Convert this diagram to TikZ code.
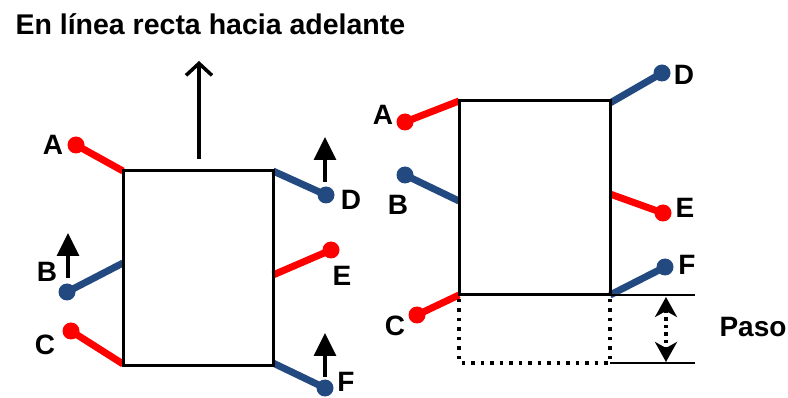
\documentclass[tikz,border=0pt]{standalone}
\usepackage{fontspec}
\setmainfont{Liberation Sans}
\usetikzlibrary{positioning,calc,arrows.meta}
\definecolor{legred}{RGB}{255,0,0}
\definecolor{legblue}{RGB}{34,74,128}

\tikzset{
  body/.style={line width=3pt},
  leg/.style={line width=7pt},
  foot/.style={circle,inner sep=0pt,minimum size=17pt},
  lbl/.style={font=\bfseries\fontsize{28}{28}\selectfont},
  lift/.style={line width=3.5pt,-{Triangle[width=22pt,length=23pt]}},
  ghost/.style={line width=3.5pt,dash pattern=on 3.5pt off 6pt},
  pasoarrow/.style={line width=3.5pt,dash pattern=on 3.5pt off 4pt,
    {Stealth[width=22pt,length=20pt,inset=6pt]}-{Stealth[width=22pt,length=20pt,inset=6pt]}},
}

\begin{document}
\begin{tikzpicture}[x=1pt,y=-1pt]
\useasboundingbox (0,0) rectangle (788,398);
\node[anchor=base west,font=\bfseries\fontsize{28.5}{28.5}\selectfont] (title) at (12,35) {En línea recta hacia adelante};

% left robot
\coordinate (a1) at (123,171);
\coordinate (b1) at (123,263);
\coordinate (c1) at (123,364);
\coordinate (d1) at (273,171);
\coordinate (e1) at (273,275);
\coordinate (f1) at (273,363);
\node[foot,fill=legred] (fa1) at (76,145) {};
\node[foot,fill=legblue] (fb1) at (67,292) {};
\node[foot,fill=legred] (fc1) at (71,331) {};
\node[foot,fill=legblue] (fd1) at (326,195) {};
\node[foot,fill=legred] (fe1) at (331,250) {};
\node[foot,fill=legblue] (ff1) at (325,388) {};
\draw[leg,legred] (a1) -- (fa1.center);
\draw[leg,legblue] (b1) -- (fb1.center);
\draw[leg,legred] (c1) -- (fc1.center);
\draw[leg,legblue] (d1) -- (fd1.center);
\draw[leg,legred] (e1) -- (fe1.center);
\draw[leg,legblue] (f1) -- (ff1.center);
\draw[body] (123,171) rectangle (273,366);
\node[lbl] (la1) at (53,145) {A};
\node[lbl] (lb1) at (47,272) {B};
\node[lbl] (lc1) at (45,345) {C};
\node[lbl] (ld1) at (351,200) {D};
\node[lbl] (le1) at (342,276) {E};
\node[lbl] (lf1) at (346,382) {F};
\coordinate (go0) at (199,159);
\coordinate (go1) at (199,61);
\draw[line width=3.5pt,-{Straight Barb[width=26pt,length=12pt]}] (go0) -- (go1);
\coordinate (ub0) at (68,278);
\coordinate (ub1) at (68,233);
\draw[lift] (ub0) -- (ub1);
\coordinate (ud0) at (325,182);
\coordinate (ud1) at (325,137);
\draw[lift] (ud0) -- (ud1);
\coordinate (uf0) at (325,377);
\coordinate (uf1) at (325,333);
\draw[lift] (uf0) -- (uf1);

% right robot
\coordinate (a2) at (459,101);
\coordinate (b2) at (459,201);
\coordinate (c2) at (459,295);
\coordinate (d2) at (610,103);
\coordinate (e2) at (610,194);
\coordinate (f2) at (610,295);
\node[foot,fill=legred] (fa2) at (405,122) {};
\node[foot,fill=legblue] (fb2) at (405,175) {};
\node[foot,fill=legred] (fc2) at (417,315) {};
\node[foot,fill=legblue] (fd2) at (662,73) {};
\node[foot,fill=legred] (fe2) at (663,213) {};
\node[foot,fill=legblue] (ff2) at (665,267) {};
\draw[leg,legred] (a2) -- (fa2.center);
\draw[leg,legblue] (b2) -- (fb2.center);
\draw[leg,legred] (c2) -- (fc2.center);
\draw[leg,legblue] (d2) -- (fd2.center);
\draw[leg,legred] (e2) -- (fe2.center);
\draw[leg,legblue] (f2) -- (ff2.center);
\draw[ghost] (459,299) -- (459,363) -- (610,363) -- (610,299);
\draw[body] (459,101) rectangle (610,295);
\node[lbl] (la2) at (383,115) {A};
\node[lbl] (lb2) at (398,205) {B};
\node[lbl] (lc2) at (395,326) {C};
\node[lbl] (ld2) at (684,75) {D};
\node[lbl] (le2) at (685,208) {E};
\node[lbl] (lf2) at (687,265) {F};
\coordinate (s0) at (610,295);
\coordinate (s1) at (610,363);
\coordinate (t0) at (695,295);
\coordinate (t1) at (695,363);
\draw[line width=1.5pt] (s0) -- (t0);
\draw[line width=1.5pt] (s1) -- (t1);
\coordinate (p0) at (666,297);
\coordinate (p1) at (666,362);
\draw[pasoarrow] (p0) -- (p1);
\node[lbl,anchor=west] (paso) at (716,327) {Paso};
\end{tikzpicture}
\end{document}
